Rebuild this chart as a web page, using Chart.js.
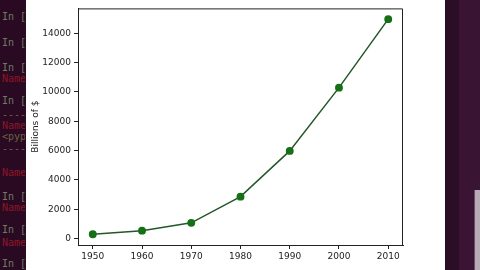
<!DOCTYPE html>
<html>
<head>
<meta charset="utf-8">
<script src="https://cdn.jsdelivr.net/npm/chart.js@4"></script>
<style>
  body { margin: 0; width: 480px; height: 270px; overflow: hidden; background: #2c0b25; position: relative; }
  #term { position: absolute; left: 0; top: 0; width: 25px; height: 270px; overflow: hidden; background: #2a0a23;
          font-family: "DejaVu Sans Mono", monospace; font-size: 10px; }
  #term span { position: absolute; left: 2px; white-space: pre; line-height: 10px; }
  .inp { color: #6f7a62; }
  .err { color: #8e1626; }
  .dim { color: #6e6046; }
  #fig { position: absolute; left: 26px; top: 0; width: 419px; height: 270px; background: #fff; }
  #side { position: absolute; left: 445px; top: 0; width: 35px; height: 270px; background: #2c0d27; }
  #side .band { position: absolute; left: 14px; top: 0; width: 21px; height: 270px; background: #3a1533; }
  #side .sb { position: absolute; left: 29px; top: 190px; width: 6px; height: 80px; background: #b9a9b6; border-left: 1px solid #6a4a64; }
</style>
</head>
<body>
<div id="term"></div>
<div id="fig"><canvas id="chart"></canvas></div>
<div id="side"><div class="band"></div><div class="sb"></div></div>
<script>
// terminal lines behind the figure
const termLines = [
  [12, "inp", "In [3"], [38, "inp", "In [4"], [63, "inp", "In [5"], [74, "err", "Name"],
  [96, "inp", "In [6"], [110, "dim", "-----"], [121, "err", "Name"], [132, "dim", "<pyp"],
  [144, "dim", "-----"], [168, "err", "Name"], [192, "inp", "In [7"], [203, "err", "Name"],
  [225, "inp", "In [8"], [238, "err", "Name"], [259, "inp", "In [9"]
];
const term = document.getElementById("term");
termLines.forEach((l) => {
  const s = document.createElement("span");
  s.className = l[1];
  s.style.top = l[0] + "px";
  s.textContent = l[2];
  term.appendChild(s);
});

// Nominal GDP
const years = [1950, 1960, 1970, 1980, 1990, 2000, 2010];
const gdp = [300.2, 543.3, 1075.9, 2862.5, 5979.6, 10289.7, 14958.3];
const yTicks = [0, 2000, 4000, 6000, 8000, 10000, 12000, 14000];

const points = years.map((y, i) => ({ x: y, y: gdp[i] }));

// top and right spines
const frame = {
  id: "frame",
  afterDraw(chart) {
    const a = chart.chartArea;
    const ctx = chart.ctx;
    ctx.save();
    ctx.strokeStyle = "#222";
    ctx.lineWidth = 1;
    ctx.beginPath();
    ctx.moveTo(a.left, a.top + 0.5);
    ctx.lineTo(a.right - 0.5, a.top + 0.5);
    ctx.lineTo(a.right - 0.5, a.bottom);
    ctx.stroke();
    ctx.restore();
  },
};

new Chart(document.getElementById("chart"), {
  type: "line",
  data: {
    datasets: [
      {
        data: points,
        borderColor: "#24572a",
        borderWidth: 1.5,
        pointBackgroundColor: "#167016",
        pointBorderColor: "#167016",
        pointRadius: 3.2,
        tension: 0,
      },
    ],
  },
  options: {
    responsive: true,
    maintainAspectRatio: false,
    animation: false,
    layout: { padding: { left: 0, right: 42, top: 3, bottom: 0 } },
    plugins: { legend: { display: false }, tooltip: { enabled: false } },
    scales: {
      x: {
        type: "linear",
        min: 1947,
        max: 2013,
        afterBuildTicks: (s) => { s.ticks = years.map((v) => ({ value: v })); },
        afterFit: (s) => { s.height = 25; },
        grid: { drawOnChartArea: false, drawTicks: true, tickLength: 4, color: "#222" },
        border: { display: true, color: "#222" },
        ticks: { color: "#222", padding: 2, maxRotation: 0, font: { family: "DejaVu Sans", size: 9 }, callback: (v) => String(v) },
      },
      y: {
        min: -433,
        max: 15691,
        afterBuildTicks: (s) => { s.ticks = yTicks.map((v) => ({ value: v })); },
        afterFit: (s) => { s.width = 52; },
        grid: { drawOnChartArea: false, drawTicks: true, tickLength: 4, color: "#222" },
        border: { display: true, color: "#222" },
        ticks: { color: "#222", padding: 3, font: { family: "DejaVu Sans", size: 9 }, callback: (v) => String(v) },
        title: { display: true, text: "Billions of $", color: "#222", font: { family: "DejaVu Sans", size: 9 } },
      },
    },
  },
  plugins: [frame],
});
</script>
</body>
</html>
